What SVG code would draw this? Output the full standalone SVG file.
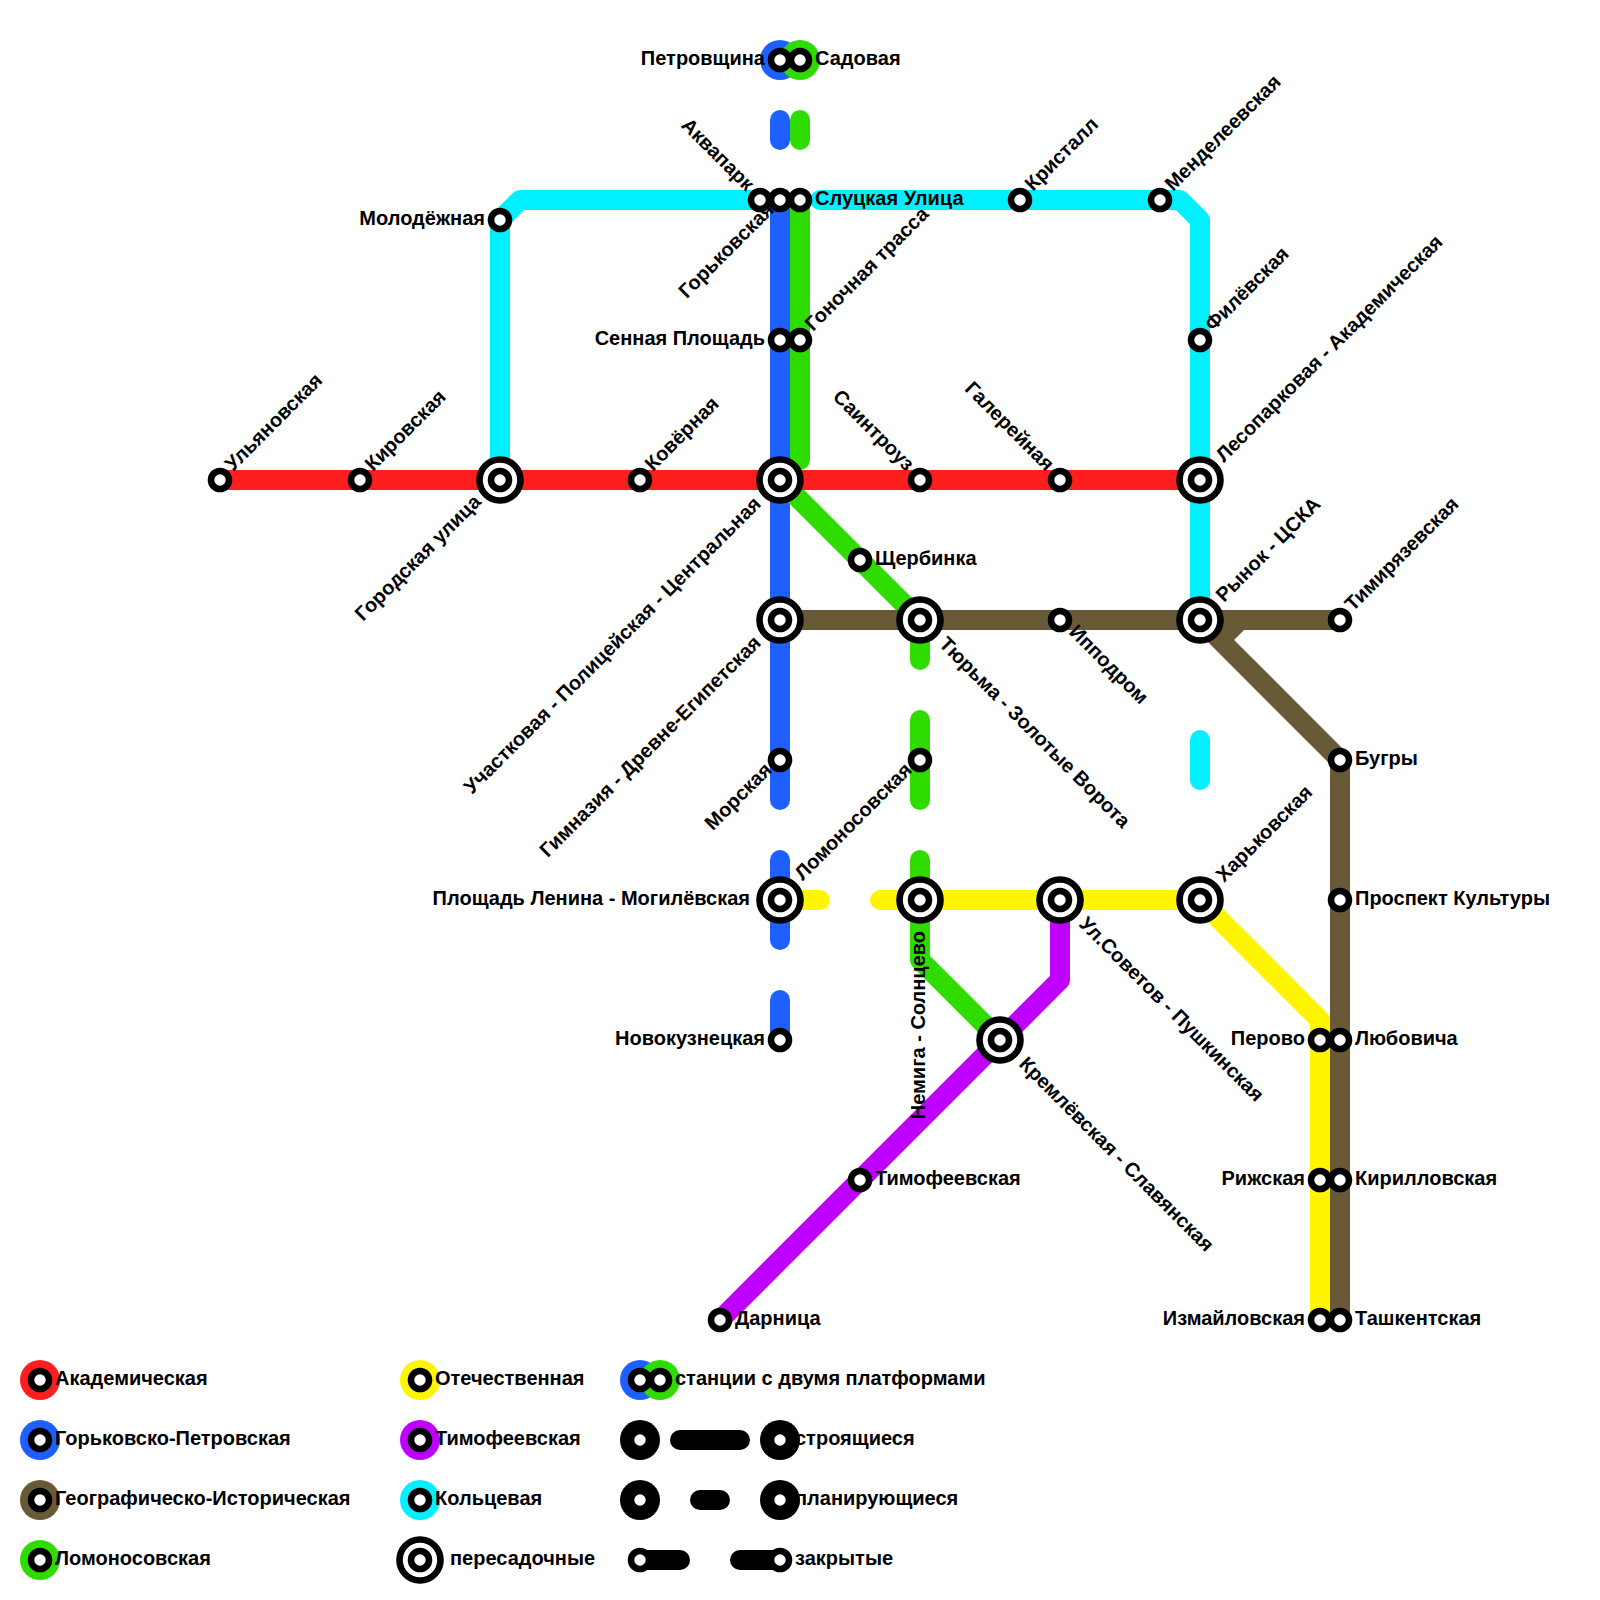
<svg xmlns="http://www.w3.org/2000/svg" width="1600" height="1600" viewBox="0 0 1600 1600">
<style>
text{font-family:"Liberation Sans",Arial,sans-serif;font-weight:700;font-size:20px;fill:#000}
.e{text-anchor:end}
.l{fill:none;stroke-width:20;stroke-linecap:round;stroke-linejoin:round}
.b{stroke-linecap:butt}
.red{stroke:#ff1e1e}.blue{stroke:#1e5fff}.green{stroke:#2fdc00}.brown{stroke:#695a37}.yellow{stroke:#fff500}.purple{stroke:#bf00ff}.cyan{stroke:#00f0ff}.blk{stroke:#000}
.s{fill:#fff;stroke:#000;stroke-width:6.6}
.o{fill:#fff;stroke:#000;stroke-width:6.6}
</style>
<defs>
<g id="st"><circle class="s" r="9"/></g>
<g id="ic"><circle class="o" r="20.5"/><circle class="s" r="9"/></g>
<g id="dk"><circle r="20" fill="#000"/><circle r="5.7" fill="#fff"/></g>
</defs>
<rect width="1600" height="1600" fill="#fff"/>
<g id="connectors">
<path class="l cyan" d="M760 200H520L500 220V480"/>
<path class="l cyan" d="M820 200H1180L1200 220V620"/>
<path class="l cyan" d="M1200 740V780"/>
<path class="l blue" d="M780 120V140"/>
<path class="l blue" d="M780 200V800"/>
<path class="l blue" d="M780 860V940"/>
<path class="l blue" d="M780 1000V1040"/>
<path class="l green" d="M800 120V140"/>
<path class="l green" d="M800 200V460"/>
<path class="l green" d="M780 480L920 620V660"/>
<path class="l green" d="M920 720V800"/>
<path class="l green" d="M920 860V960L1000 1040"/>
<path class="l yellow" d="M780 900H820"/>
<path class="l yellow" d="M880 900H1200L1320 1020V1320"/>
<path class="l purple" d="M1060 900V980L720 1320"/>
<path class="l red" d="M220 480H1200"/>
<path class="l brown" d="M780 620H1340"/>
<path class="l brown" d="M1200 620L1340 760V1320"/>
<path class="l brown b" d="M1240 620L1220 640"/>
</g>
<g id="n-petrovshchina"><circle cx="780" cy="60" r="20" fill="#1e5fff"/></g>
<g id="n-sadovaya"><circle cx="800" cy="60" r="20" fill="#2fdc00"/></g>
<g id="n-petrovshchina-st"><use href="#st" x="780" y="60"/><text class="e" x="765" y="65">Петровщина</text></g>
<g id="n-sadovaya-st"><use href="#st" x="800" y="60"/><text x="815" y="65">Садовая</text></g>
<g id="n-akvapark"><use href="#st" x="760" y="200"/><text class="e" transform="translate(746 192) rotate(45)">Аквапарк</text></g>
<g id="n-gorkovskaya"><use href="#st" x="780" y="200"/><text class="e" transform="translate(775 211) rotate(-45)">Горьковская</text></g>
<g id="n-slutskaya"><use href="#st" x="800" y="200"/><text x="815" y="205">Слуцкая Улица</text></g>
<g id="n-kristall"><use href="#st" x="1020" y="200"/><text transform="translate(1033 192) rotate(-45)">Кристалл</text></g>
<g id="n-mendeleevskaya"><use href="#st" x="1160" y="200"/><text transform="translate(1173 192) rotate(-45)">Менделеевская</text></g>
<g id="n-molodezhnaya"><use href="#st" x="500" y="220"/><text class="e" x="485" y="225">Молодёжная</text></g>
<g id="n-sennaya"><use href="#st" x="780" y="340"/><text class="e" x="765" y="345">Сенная Площадь</text></g>
<g id="n-gonochnaya"><use href="#st" x="800" y="340"/><text transform="translate(813 332) rotate(-45)">Гоночная трасса</text></g>
<g id="n-filevskaya"><use href="#st" x="1200" y="340"/><text transform="translate(1213 332) rotate(-45)">Филёвская</text></g>
<g id="n-ulyanovskaya"><use href="#st" x="220" y="480"/><text transform="translate(233 472) rotate(-45)">Ульяновская</text></g>
<g id="n-kirovskaya"><use href="#st" x="360" y="480"/><text transform="translate(373 472) rotate(-45)">Кировская</text></g>
<g id="n-gorodskaya"><use href="#ic" x="500" y="480"/><text class="e" transform="translate(482 503) rotate(-45)">Городская улица</text></g>
<g id="n-kovernaya"><use href="#st" x="640" y="480"/><text transform="translate(653 472) rotate(-45)">Ковёрная</text></g>
<g id="n-uchastkovaya"><use href="#ic" x="780" y="480"/><text class="e" transform="translate(762 505) rotate(-45)">Участковая - Полицейская - Центральная</text></g>
<g id="n-saintrouz"><use href="#st" x="920" y="480"/><text class="e" transform="translate(906 472) rotate(45)">Саинтроуз</text></g>
<g id="n-galereynaya"><use href="#st" x="1060" y="480"/><text class="e" transform="translate(1046 472) rotate(45)">Галерейная</text></g>
<g id="n-lesoparkovaya"><use href="#ic" x="1200" y="480"/><text transform="translate(1224 463) rotate(-45)">Лесопарковая - Академическая</text></g>
<g id="n-shcherbinka"><use href="#st" x="860" y="560"/><text x="875" y="565">Щербинка</text></g>
<g id="n-gimnaziya"><use href="#ic" x="780" y="620"/><text class="e" transform="translate(762 644) rotate(-45)">Гимназия - Древне-Египетская</text></g>
<g id="n-tyurma"><use href="#ic" x="920" y="620"/><text transform="translate(938 645) rotate(45)">Тюрьма - Золотые Ворота</text></g>
<g id="n-ippodrom"><use href="#st" x="1060" y="620"/><text transform="translate(1068 633) rotate(45)">Ипподром</text></g>
<g id="n-rynok"><use href="#ic" x="1200" y="620"/><text transform="translate(1224 603) rotate(-45)">Рынок - ЦСКА</text></g>
<g id="n-timiryazevskaya"><use href="#st" x="1340" y="620"/><text transform="translate(1353 612) rotate(-45)">Тимирязевская</text></g>
<g id="n-morskaya"><use href="#st" x="780" y="760"/><text class="e" transform="translate(773 771) rotate(-45)">Морская</text></g>
<g id="n-lomonosovskaya"><use href="#st" x="920" y="760"/><text class="e" transform="translate(913 771) rotate(-45)">Ломоносовская</text></g>
<g id="n-bugry"><use href="#st" x="1340" y="760"/><text x="1355" y="765">Бугры</text></g>
<g id="n-lenina"><use href="#ic" x="780" y="900"/><text class="e" x="750" y="905">Площадь Ленина - Могилёвская</text></g>
<g id="n-nemiga"><use href="#ic" x="920" y="900"/><text class="e" transform="translate(925 931) rotate(-90)">Немига - Солнцево</text></g>
<g id="n-sovetov"><use href="#ic" x="1060" y="900"/><text transform="translate(1078 925) rotate(45)">Ул.Советов - Пушкинская</text></g>
<g id="n-harkovskaya"><use href="#ic" x="1200" y="900"/><text transform="translate(1224 883) rotate(-45)">Харьковская</text></g>
<g id="n-prospekt"><use href="#st" x="1340" y="900"/><text x="1355" y="905">Проспект Культуры</text></g>
<g id="n-kremlevskaya"><use href="#ic" x="1000" y="1040"/><text transform="translate(1018 1065) rotate(45)">Кремлёвская - Славянская</text></g>
<g id="n-novokuznetskaya"><use href="#st" x="780" y="1040"/><text class="e" x="765" y="1045">Новокузнецкая</text></g>
<g id="n-perovo"><use href="#st" x="1320" y="1040"/><text class="e" x="1305" y="1045">Перово</text></g>
<g id="n-lyubovicha"><use href="#st" x="1340" y="1040"/><text x="1355" y="1045">Любовича</text></g>
<g id="n-timofeevskaya"><use href="#st" x="860" y="1180"/><text x="875" y="1185">Тимофеевская</text></g>
<g id="n-rizhskaya"><use href="#st" x="1320" y="1180"/><text class="e" x="1305" y="1185">Рижская</text></g>
<g id="n-kirillovskaya"><use href="#st" x="1340" y="1180"/><text x="1355" y="1185">Кирилловская</text></g>
<g id="n-darnitsa"><use href="#st" x="720" y="1320"/><text x="735" y="1325">Дарница</text></g>
<g id="n-izmaylovskaya"><use href="#st" x="1320" y="1320"/><text class="e" x="1305" y="1325">Измайловская</text></g>
<g id="n-tashkentskaya"><use href="#st" x="1340" y="1320"/><text x="1355" y="1325">Ташкентская</text></g>
<g id="legend">
<circle cx="40" cy="1380" r="20" fill="#ff1e1e"/><use href="#st" x="40" y="1380"/><text x="55" y="1385">Академическая</text>
<circle cx="40" cy="1440" r="20" fill="#1e5fff"/><use href="#st" x="40" y="1440"/><text x="55" y="1445">Горьковско-Петровская</text>
<circle cx="40" cy="1500" r="20" fill="#695a37"/><use href="#st" x="40" y="1500"/><text x="55" y="1505">Географическо-Историческая</text>
<circle cx="40" cy="1560" r="20" fill="#2fdc00"/><use href="#st" x="40" y="1560"/><text x="55" y="1565">Ломоносовская</text>
<circle cx="420" cy="1380" r="20" fill="#fff500"/><use href="#st" x="420" y="1380"/><text x="435" y="1385">Отечественная</text>
<circle cx="420" cy="1440" r="20" fill="#bf00ff"/><use href="#st" x="420" y="1440"/><text x="435" y="1445">Тимофеевская</text>
<circle cx="420" cy="1500" r="20" fill="#00f0ff"/><use href="#st" x="420" y="1500"/><text x="435" y="1505">Кольцевая</text>
<use href="#ic" x="420" y="1560"/><text x="450" y="1565">пересадочные</text>
<circle cx="640" cy="1380" r="20" fill="#1e5fff"/><circle cx="660" cy="1380" r="20" fill="#2fdc00"/><use href="#st" x="640" y="1380"/><use href="#st" x="660" y="1380"/><text x="675" y="1385">станции с двумя платформами</text>
<use href="#dk" x="640" y="1440"/><path class="l blk" d="M680 1440H740"/><use href="#dk" x="780" y="1440"/><text x="795" y="1445">строящиеся</text>
<use href="#dk" x="640" y="1500"/><path class="l blk" d="M700 1500H720"/><use href="#dk" x="780" y="1500"/><text x="795" y="1505">планирующиеся</text>
<path class="l blk" d="M640 1560H680"/><path class="l blk" d="M740 1560H780"/><use href="#st" x="640" y="1560"/><use href="#st" x="780" y="1560"/><text x="795" y="1565">закрытые</text>
</g>
</svg>
